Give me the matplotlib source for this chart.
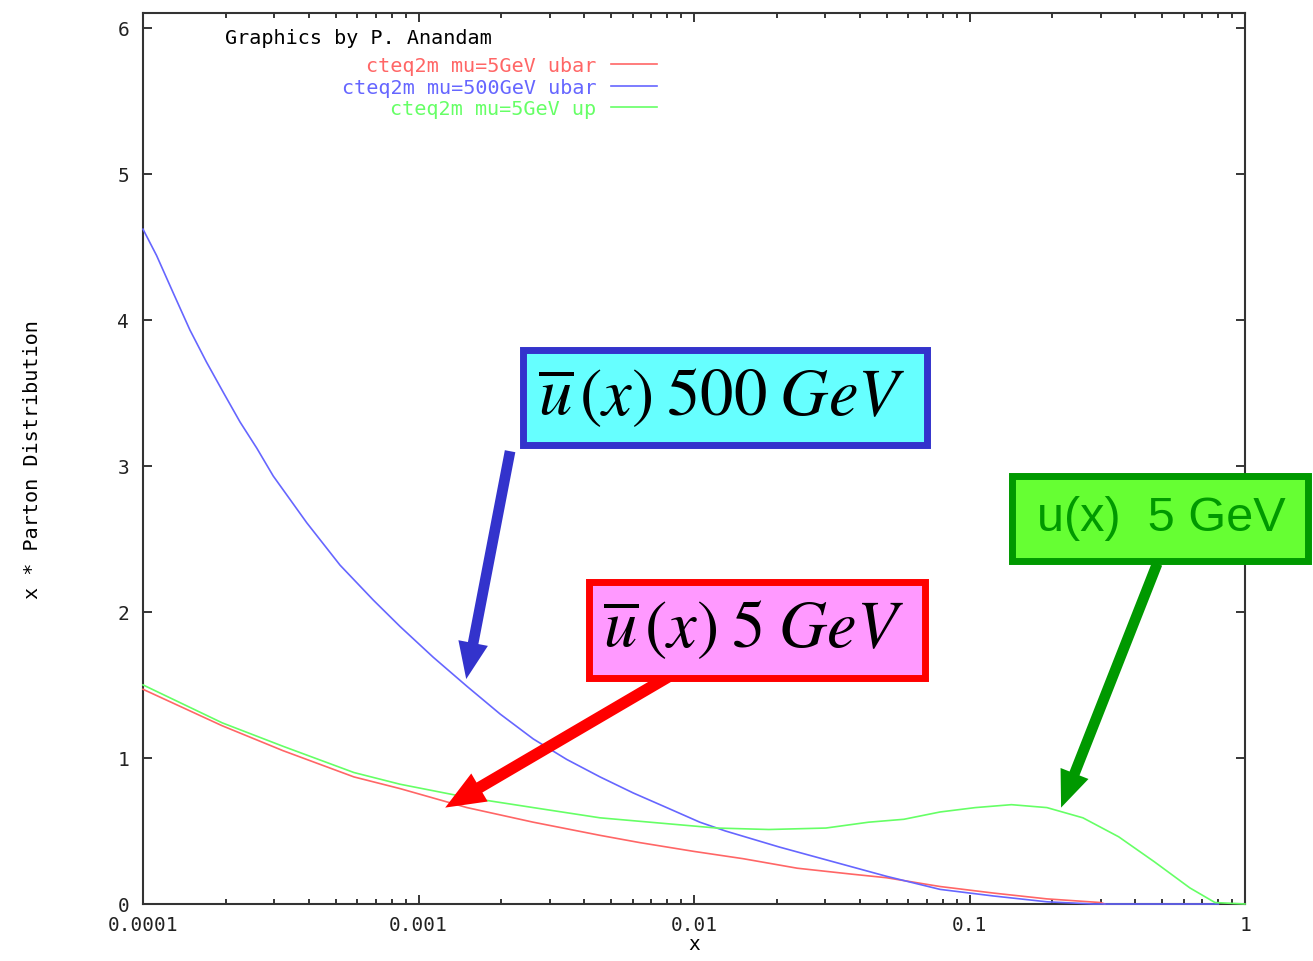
import numpy as np
import matplotlib.pyplot as plt
from matplotlib.patches import Rectangle
from matplotlib.ticker import FixedLocator, LogLocator, NullFormatter

# values (x * parton distribution vs x)
ubar5_x = [1e-4, 1.94e-4, 3.22e-4, 5.83e-4, 8.57e-4, 1.50e-3, 2.61e-3, 4.56e-3, 6.37e-3,
           0.0100, 0.0151, 0.0237, 0.0371, 0.0499, 0.078, 0.122, 0.191, 0.299, 0.31]
ubar5_y = [1.47, 1.22, 1.05, 0.87, 0.79, 0.66, 0.56, 0.47, 0.42,
           0.36, 0.31, 0.245, 0.205, 0.18, 0.12, 0.075, 0.035, 0.01, 0.0]

ubar500_x = [1e-4, 1.12e-4, 1.29e-4, 1.48e-4, 1.70e-4, 1.96e-4, 2.25e-4, 2.59e-4,
             2.97e-4, 3.93e-4, 5.19e-4, 6.86e-4, 8.57e-4, 1.13e-3, 1.50e-3, 1.98e-3,
             2.61e-3, 3.45e-3, 4.56e-3, 6.02e-3, 7.96e-3, 0.0105, 0.0130, 0.0204,
             0.0319, 0.0499, 0.0782, 0.122, 0.191, 0.282, 0.80]
ubar500_y = [4.62, 4.44, 4.18, 3.93, 3.71, 3.50, 3.30, 3.12,
             2.93, 2.61, 2.32, 2.08, 1.90, 1.69, 1.49, 1.30,
             1.13, 0.99, 0.87, 0.76, 0.66, 0.56, 0.50, 0.39,
             0.29, 0.19, 0.10, 0.055, 0.015, 0.0, 0.0]

up5_x = [1e-4, 1.94e-4, 3.22e-4, 5.83e-4, 8.57e-4, 1.50e-3, 2.61e-3, 4.56e-3, 7.96e-3,
         0.0121, 0.0187, 0.0301, 0.043, 0.0578, 0.0782, 0.105, 0.142, 0.191,
         0.258, 0.348, 0.468, 0.631, 0.778, 1.0]
up5_y = [1.50, 1.24, 1.08, 0.90, 0.82, 0.73, 0.66, 0.59, 0.55,
         0.52, 0.51, 0.52, 0.56, 0.58, 0.63, 0.66, 0.68, 0.66,
         0.59, 0.46, 0.29, 0.11, 0.01, 0.0]

series_labels = ['cteq2m mu=5GeV ubar', 'cteq2m mu=500GeV ubar', 'cteq2m mu=5GeV up']
series_colors = ['#ff6666', '#6666ff', '#66ff66']

x_ticks = [1e-4, 1e-3, 1e-2, 1e-1, 1]
x_tick_labels = ['0.0001', '0.001', '0.01', '0.1', '1']
y_ticks = [0, 1, 2, 3, 4, 5, 6]

plt.rcParams['mathtext.fontset'] = 'stix'
mono = 'DejaVu Sans Mono'

W, H = 1313, 962
fig = plt.figure(figsize=(W / 100, H / 100), dpi=100)
ax = fig.add_axes([143 / W, 1 - 905 / H, (1245 - 143) / W, (905 - 14) / H])

for xs, ys, lab, col in zip([ubar5_x, ubar500_x, up5_x], [ubar5_y, ubar500_y, up5_y],
                            series_labels, series_colors):
    ax.plot(xs, ys, color=col, lw=1.2, label=lab, clip_on=False, zorder=3)

ax.set_xscale('log')
ax.set_xlim(1e-4, 1)
ax.set_ylim(0, 6.1)
ax.xaxis.set_major_locator(FixedLocator(x_ticks))
ax.set_xticklabels(x_tick_labels)
ax.xaxis.set_minor_locator(LogLocator(base=10, subs=np.arange(2, 10)))
ax.xaxis.set_minor_formatter(NullFormatter())
ax.set_yticks(y_ticks)
ax.set_yticklabels([str(v) for v in y_ticks])

ax.tick_params(which='both', direction='in', top=True, right=True, width=1.1,
               color='black', labelsize=14, labelcolor='#222222')
ax.tick_params(which='major', length=6.5)
ax.tick_params(which='minor', length=3.5)
ax.tick_params(axis='x', pad=8)
ax.tick_params(axis='y', pad=10)
for lbl in ax.get_xticklabels() + ax.get_yticklabels():
    lbl.set_family(mono)
for sp in ax.spines.values():
    sp.set_color('#333333')
    sp.set_linewidth(1.5)

ax.set_xlabel('x', family=mono, fontsize=14, labelpad=0)
ax.set_ylabel('x * Parton Distribution', family=mono, fontsize=14.5, labelpad=54)

# gnuplot style key, text to the left of the sample line
ax.legend(loc='upper right', bbox_to_anchor=(657 / W, 1 - 57 / H), bbox_transform=fig.transFigure,
          frameon=False, markerfirst=False, alignment='right', labelcolor='linecolor',
          prop={'family': mono, 'size': 14.5}, handlelength=2.3, handletextpad=0.7,
          labelspacing=0.13, borderpad=0, borderaxespad=0)
fig.text(225 / W, 1 - 39 / H, 'Graphics by P. Anandam', family=mono, fontsize=14.5,
         ha='left', va='center')


def box(x0, y0, x1, y1, fc, ec, lw):
    # corners in picture pixels (top-left origin)
    r = Rectangle((x0 / W, 1 - y1 / H), (x1 - x0) / W, (y1 - y0) / H,
                  transform=fig.transFigure, fc=fc, ec=ec, lw=lw, zorder=5)
    fig.add_artist(r)


blue_dark = '#3333cc'
red_dark = '#ff0000'
green_dark = '#009900'

box(522.5, 350.5, 926.5, 445.5, '#66ffff', blue_dark, 5)
fig.text(722 / W, 1 - 396 / H, r'$\overline{u}\,(x)\;500\;GeV$', fontsize=48,
         ha='center', va='center', zorder=6)

box(588.5, 582.5, 924.5, 678.5, '#ff99ff', red_dark, 5)
fig.text(753 / W, 1 - 628 / H, r'$\overline{u}\,(x)\;5\;GeV$', fontsize=48,
         ha='center', va='center', zorder=6)

box(1011.5, 476.5, 1308, 561.5, '#66ff33', green_dark, 5)
fig.text(1161 / W, 1 - 519 / H, 'u(x)  5 GeV', family='Liberation Sans', fontsize=35,
         color=green_dark, ha='center', va='center', zorder=6)

arrow_style = 'simple,head_length=1.1,head_width=0.9,tail_width=0.32'
ax.annotate('', xy=(1.49e-3, 1.54), xytext=(2.15e-3, 3.10),
            arrowprops=dict(arrowstyle=arrow_style, fc=blue_dark, ec='none',
                            shrinkA=0, shrinkB=0, mutation_scale=24), zorder=4)
ax.annotate('', xy=(1.25e-3, 0.66), xytext=(8.32e-3, 1.57),
            arrowprops=dict(arrowstyle=arrow_style, fc=red_dark, ec='none',
                            shrinkA=0, shrinkB=0, mutation_scale=26), zorder=4)
ax.annotate('', xy=(0.215, 0.66), xytext=(0.48, 2.33),
            arrowprops=dict(arrowstyle=arrow_style, fc=green_dark, ec='none',
                            shrinkA=0, shrinkB=0, mutation_scale=24), zorder=4)

fig.savefig('out.png', dpi=100)
